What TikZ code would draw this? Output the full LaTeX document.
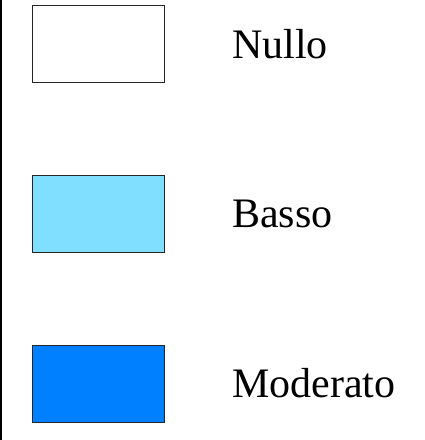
\documentclass[tikz,border=0pt]{standalone}
\usepackage{fontspec}
\setmainfont{Liberation Serif}
\definecolor{bassoc}{RGB}{128,223,255}
\definecolor{modc}{RGB}{0,128,255}
\begin{document}
\begin{tikzpicture}[x=1pt,y=-1pt,
  swatch/.style={draw=black!85,line width=1.3pt,minimum width=132pt,minimum height=77pt,inner sep=0pt,anchor=north west},
  lbl/.style={anchor=base west,inner sep=0pt,font=\fontsize{42}{42}\selectfont}]
\useasboundingbox (0,0) rectangle (425,440);
\fill[white] (0,0) rectangle (425,440);
\coordinate (ltop) at (1,0);
\coordinate (lbot) at (1,440);
\draw[line width=2pt] (ltop) -- (lbot);
\node[swatch,fill=white] (b1) at (32,5) {};
\node[swatch,fill=bassoc] (b2) at (32,175) {};
\node[swatch,fill=modc] (b3) at (32,345) {};
\node[lbl] (t1) at (232,58) {Nullo};
\node[lbl] (t2) at (232,227) {Basso};
\node[lbl] (t3) at (232,397) {Moderato};
\end{tikzpicture}
\end{document}
